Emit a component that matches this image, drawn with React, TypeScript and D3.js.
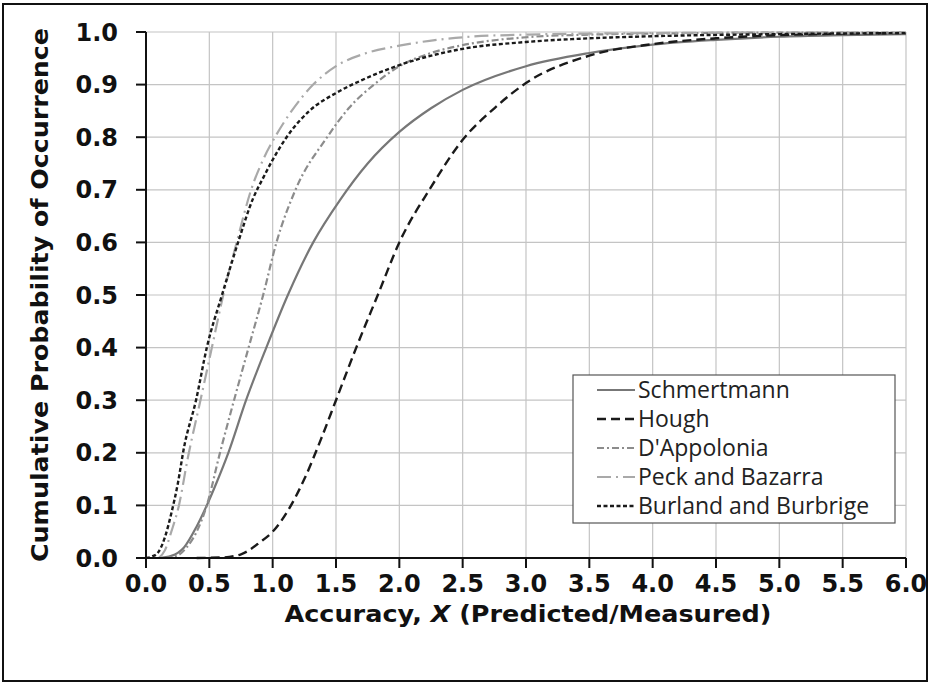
import React from "react";
import * as d3 from "d3";

const xTicks = [0, 0.5, 1, 1.5, 2, 2.5, 3, 3.5, 4, 4.5, 5, 5.5, 6];
const yTicks = [0, 0.1, 0.2, 0.3, 0.4, 0.5, 0.6, 0.7, 0.8, 0.9, 1.0];

const schmertmannX = [0.1, 0.2, 0.3, 0.4, 0.48, 0.56, 0.65, 0.79, 0.95, 1.12, 1.32, 1.53, 1.75, 2.0, 2.25, 2.5, 3.0, 3.5, 4.0, 4.5, 5.0, 5.5, 6.0];
const schmertmannP = [0.0, 0.004, 0.02, 0.06, 0.1, 0.145, 0.2, 0.3, 0.4, 0.5, 0.6, 0.68, 0.75, 0.81, 0.855, 0.89, 0.935, 0.96, 0.976, 0.985, 0.991, 0.994, 0.996];

const houghX = [0.4, 0.6, 0.75, 0.9, 1.0, 1.12, 1.25, 1.38, 1.5, 1.66, 1.83, 2.0, 2.25, 2.5, 2.75, 3.0, 3.5, 4.0, 4.5, 5.0, 5.5, 6.0];
const houghP = [0.0, 0.001, 0.007, 0.03, 0.05, 0.09, 0.15, 0.225, 0.3, 0.4, 0.5, 0.6, 0.705, 0.795, 0.855, 0.903, 0.955, 0.977, 0.988, 0.994, 0.997, 0.998];

const dappoloniaX = [0.15, 0.25, 0.32, 0.4, 0.48, 0.584, 0.695, 0.81, 0.925, 1.03, 1.18, 1.43, 1.6, 1.8, 2.0, 2.25, 2.5, 3.0, 3.5, 4.0, 5.0, 6.0];
const dappoloniaP = [0.0, 0.005, 0.02, 0.05, 0.1, 0.2, 0.3, 0.4, 0.5, 0.6, 0.7, 0.8, 0.855, 0.9, 0.935, 0.96, 0.975, 0.99, 0.995, 0.997, 0.999, 0.999];

const peckX = [0.1, 0.15, 0.2, 0.26, 0.33, 0.43, 0.52, 0.61, 0.716, 0.83, 0.93, 1.03, 1.15, 1.32, 1.5, 1.74, 2.0, 2.5, 3.0, 4.0, 5.0, 6.0];
const peckP = [0.0, 0.015, 0.05, 0.1, 0.19, 0.3, 0.4, 0.5, 0.6, 0.7, 0.76, 0.805, 0.85, 0.9, 0.935, 0.96, 0.974, 0.99, 0.995, 0.998, 0.999, 0.999];

const burlandX = [0.0, 0.05, 0.1, 0.15, 0.2, 0.25, 0.3, 0.395, 0.48, 0.6, 0.727, 0.846, 0.93, 1.0, 1.11, 1.29, 1.5, 1.7, 2.0, 2.5, 3.0, 3.5, 4.0, 5.0, 6.0];
const burlandP = [0.0, 0.003, 0.012, 0.04, 0.085, 0.14, 0.21, 0.3, 0.4, 0.5, 0.6, 0.684, 0.725, 0.757, 0.8, 0.85, 0.884, 0.908, 0.937, 0.968, 0.981, 0.988, 0.992, 0.996, 0.998];

const seriesNames = ["Schmertmann", "Hough", "D'Appolonia", "Peck and Bazarra", "Burland and Burbrige"];

const W = 930;
const H = 683;
const plot = { left: 146, right: 906, top: 32, bottom: 558 };

const styles = [
  { color: "#777777", width: 2.2, dash: "" },
  { color: "#1a1a1a", width: 2.4, dash: "9,5" },
  { color: "#8c8c8c", width: 2.2, dash: "7,3,2,3" },
  { color: "#a9a9a9", width: 2.2, dash: "14,5,2,5" },
  { color: "#1a1a1a", width: 2.4, dash: "4,2.5" },
];

export default function App() {
  const x = d3.scaleLinear().domain([0, 6]).range([plot.left, plot.right]);
  const y = d3.scaleLinear().domain([0, 1]).range([plot.bottom, plot.top]);
  const line = d3
    .line<[number, number]>()
    .x((d) => x(d[0]))
    .y((d) => y(d[1]))
    .curve(d3.curveMonotoneX);

  const data: [number, number][][] = [
    schmertmannX.map((v, i) => [v, schmertmannP[i]]),
    houghX.map((v, i) => [v, houghP[i]]),
    dappoloniaX.map((v, i) => [v, dappoloniaP[i]]),
    peckX.map((v, i) => [v, peckP[i]]),
    burlandX.map((v, i) => [v, burlandP[i]]),
  ];

  const boldFont = "'DejaVu Sans', sans-serif";
  const legend = { x: 573, y: 375, w: 322, h: 148, row: 29 };

  return (
    <svg
      width={W}
      height={H}
      style={{ position: "absolute", left: 0, top: 0, background: "#fff" }}
    >
      <rect x={0} y={0} width={W} height={H} fill="#fff" />
      <rect x={3} y={4} width={924} height={677} fill="none" stroke="#111" strokeWidth={2} />

      {/* grid */}
      {xTicks.slice(1).map((t) => (
        <line key={"gx" + t} x1={x(t)} x2={x(t)} y1={plot.top} y2={plot.bottom} stroke="#c4c4c4" strokeWidth={1.2} />
      ))}
      {yTicks.slice(1).map((t) => (
        <line key={"gy" + t} x1={plot.left} x2={plot.right} y1={y(t)} y2={y(t)} stroke="#c4c4c4" strokeWidth={1.2} />
      ))}

      {/* series */}
      {data.map((d, i) => (
        <path
          key={seriesNames[i]}
          d={line(d) || ""}
          fill="none"
          stroke={styles[i].color}
          strokeWidth={styles[i].width}
          strokeDasharray={styles[i].dash}
        />
      ))}

      {/* axes */}
      <line x1={plot.left} x2={plot.left} y1={plot.top} y2={plot.bottom} stroke="#111" strokeWidth={2} />
      <line x1={plot.left - 10} x2={plot.right} y1={plot.bottom} y2={plot.bottom} stroke="#111" strokeWidth={2} />
      {yTicks.map((t) => (
        <g key={"yt" + t}>
          <line x1={plot.left - 10} x2={plot.left} y1={y(t)} y2={y(t)} stroke="#111" strokeWidth={2} />
          <text
            x={118}
            y={y(t)}
            dy="0.36em"
            textAnchor="end"
            fontFamily={boldFont}
            fontWeight="bold"
            fontSize={24}
            fill="#111"
          >
            {t.toFixed(1)}
          </text>
        </g>
      ))}
      {xTicks.map((t) => (
        <g key={"xt" + t}>
          <line x1={x(t)} x2={x(t)} y1={plot.bottom} y2={plot.bottom + 10} stroke="#111" strokeWidth={2} />
          <text
            x={x(t)}
            y={592}
            textAnchor="middle"
            fontFamily={boldFont}
            fontWeight="bold"
            fontSize={24}
            fill="#111"
          >
            {t.toFixed(1)}
          </text>
        </g>
      ))}

      {/* axis titles */}
      <text
        x={528}
        y={622}
        textAnchor="middle"
        fontFamily={boldFont}
        fontWeight="bold"
        fontSize={23}
        fill="#111"
        textLength={487}
        lengthAdjust="spacingAndGlyphs"
      >
        Accuracy, <tspan fontStyle="italic">X</tspan> (Predicted/Measured)
      </text>
      <text
        transform={`translate(48,${(plot.top + plot.bottom) / 2}) rotate(-90)`}
        textAnchor="middle"
        fontFamily={boldFont}
        fontWeight="bold"
        fontSize={23}
        fill="#111"
        textLength={534}
        lengthAdjust="spacingAndGlyphs"
      >
        Cumulative Probability of Occurrence
      </text>

      {/* legend */}
      <rect x={legend.x} y={legend.y} width={legend.w} height={legend.h} fill="#fff" stroke="#555" strokeWidth={1.2} />
      {seriesNames.map((name, i) => {
        const cy = legend.y + 15 + i * legend.row;
        return (
          <g key={"lg" + name}>
            <line
              x1={597}
              x2={635}
              y1={cy}
              y2={cy}
              stroke={styles[i].color}
              strokeWidth={styles[i].width}
              strokeDasharray={styles[i].dash}
            />
            <text
              x={638}
              y={cy}
              dy="0.36em"
              fontFamily="'Open Sans', sans-serif"
              fontSize={23}
              fill="#222"
            >
              {name}
            </text>
          </g>
        );
      })}
    </svg>
  );
}
